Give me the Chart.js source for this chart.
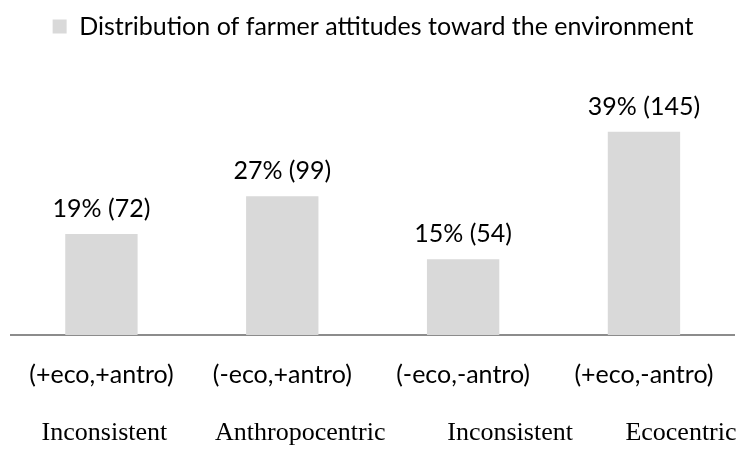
<!DOCTYPE html>
<html>
<head>
<meta charset="utf-8">
<script src="https://cdn.jsdelivr.net/npm/chart.js@4.4.1/dist/chart.umd.min.js"></script>
<style>
  html, body { margin: 0; padding: 0; background: #fff; }
  #wrap { width: 739px; height: 453px; }
</style>
</head>
<body>
<div id="wrap"><canvas id="chart"></canvas></div>
<script>
const CATEGORIES = ['(+eco,+antro)', '(-eco,+antro)', '(-eco,-antro)', '(+eco,-antro)'];
const ROLES      = ['Inconsistent', 'Anthropocentric', 'Inconsistent', 'Ecocentric'];
const COUNTS     = [72, 99, 54, 145];
const PERCENTS   = [19, 27, 15, 39];
const SERIES     = 'Distribution of farmer attitudes toward the environment';

const BAR_COLOR  = '#d9d9d9';
const AXIS_COLOR = '#8c8c8c';
const TEXT_COLOR = '#000000';
const SANS       = { family: 'Lato', size: 25 };
const SERIF      = '26px "Liberation Serif"';
const ROLE_SHIFT = [3, 18, 47, 37];

// "19% (72)" above each bar
const valueLabels = {
  id: 'valueLabels',
  afterDatasetsDraw(chart) {
    const ctx = chart.ctx;
    const meta = chart.getDatasetMeta(0);
    ctx.save();
    ctx.font = `${SANS.size}px ${SANS.family}`;
    ctx.fillStyle = TEXT_COLOR;
    ctx.textAlign = 'center';
    ctx.textBaseline = 'alphabetic';
    meta.data.forEach((bar, i) => {
      ctx.fillText(`${PERCENTS[i]}% (${COUNTS[i]})`, bar.x, bar.y - 17);
    });
    ctx.restore();
  }
};

// second row of category names (serif)
const roleLabels = {
  id: 'roleLabels',
  afterDraw(chart) {
    const ctx = chart.ctx;
    const x = chart.scales.x;
    ctx.save();
    ctx.font = SERIF;
    ctx.fillStyle = TEXT_COLOR;
    ctx.textAlign = 'center';
    ctx.textBaseline = 'alphabetic';
    ROLES.forEach((r, i) => ctx.fillText(r, x.getPixelForValue(i) + ROLE_SHIFT[i], 440));
    ctx.restore();
  }
};

new Chart(document.getElementById('chart'), {
  type: 'bar',
  data: {
    labels: CATEGORIES,
    datasets: [{
      label: SERIES,
      data: COUNTS,
      backgroundColor: BAR_COLOR,
      borderWidth: 0,
      barPercentage: 0.4,
      categoryPercentage: 1,
    }],
  },
  options: {
    responsive: true,
    maintainAspectRatio: false,
    animation: false,
    layout: { padding: { top: 4, left: 11, right: 4, bottom: 0 } },
    plugins: {
      legend: {
        labels: { color: TEXT_COLOR, font: SANS, boxWidth: 14, boxHeight: 14, padding: 10 },
      },
      tooltip: { enabled: false },
    },
    scales: {
      x: {
        grid: { display: false, drawTicks: false, tickLength: 0 },
        border: { display: true, color: AXIS_COLOR, width: 2 },
        ticks: { color: TEXT_COLOR, font: SANS, padding: 25, maxRotation: 0 },
        afterFit: s => { s.height = 118; },
      },
      y: {
        display: false,
        min: 0,
        max: 204,
      },
    },
  },
  plugins: [valueLabels, roleLabels],
});
</script>
</body>
</html>
